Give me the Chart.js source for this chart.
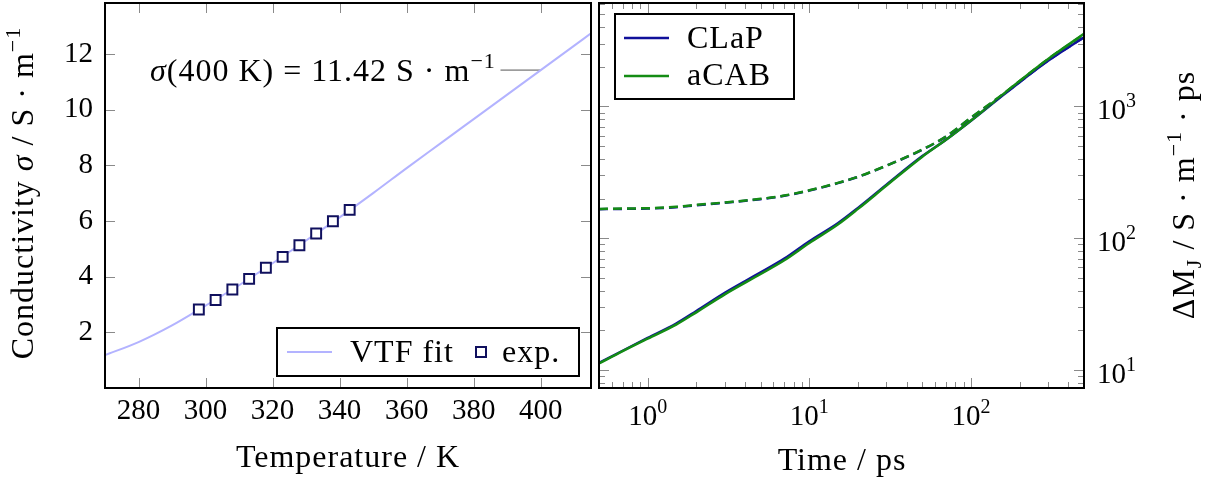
<!DOCTYPE html>
<html>
<head>
<meta charset="utf-8">
<script src="https://cdn.jsdelivr.net/npm/chart.js@4.4.0/dist/chart.umd.min.js"></script>
<style>
    body { margin: 0; background: #fff; }
    #wrap { position: relative; width: 1210px; height: 483px; }
    #graficoVTF { position: absolute; left: 0; top: 0; }
    #graficoMJ { position: absolute; left: 596px; top: 0; }
</style>
</head>
<body>
<div id="wrap">
    <canvas id="graficoVTF" width="596" height="483"></canvas>
    <canvas id="graficoMJ" width="614" height="483"></canvas>
</div>
<script>
// Painel esquerdo: condutividade x temperatura
const vtfTemp = [270, 280, 290, 300, 310, 320, 330, 340, 350, 360, 370, 380, 390, 400, 410, 415];
const vtfSigma = [1.18, 1.65, 2.25, 2.96, 3.69, 4.48, 5.3, 6.13, 7.0, 7.9, 8.78, 9.66, 10.54, 11.42, 12.3, 12.74];
const expTemp = [298, 303, 308, 313, 318, 323, 328, 333, 338, 343];
const expSigma = [2.82, 3.16, 3.54, 3.92, 4.32, 4.71, 5.13, 5.55, 5.99, 6.40];
const marcaTemp = [388, 400];
const marcaSigma = [11.42, 11.42];
const tempTicks = [280, 300, 320, 340, 360, 380, 400];
const sigmaTicks = [2, 4, 6, 8, 10, 12];

// Painel direito: deslocamento de M_J x tempo
const tempoPs = [0.5, 0.7, 1, 1.5, 2, 3, 5, 7, 10, 15, 20, 30, 50, 70, 100, 150, 200, 300, 500];
const clapSolido = [11.3, 14.0, 17.5, 22.5, 28, 38.5, 55, 70, 95, 130, 170, 255, 420, 560, 780, 1160, 1530, 2220, 3350];
const acabSolido = [11.2, 13.9, 17.3, 22.1, 27.4, 37.5, 53.5, 68, 92, 127, 167, 251, 416, 558, 782, 1175, 1560, 2290, 3560];
const clapFit = [166, 167, 168, 172, 178, 186, 198, 210, 230, 262, 292, 355, 470, 590, 820, 1175, 1535, 2230, 3360];
const acabFit = [167, 168, 169, 173, 179, 187, 199, 211, 231, 263, 293, 356, 472, 592, 823, 1185, 1560, 2290, 3540];
const decadasX = [1, 10, 100];
const decadasY = [10, 100, 1000];

const FONTE = "'Liberation Serif', 'DejaVu Serif', serif";
const TAM = 32;       // títulos, legenda, anotação
const TAM_TICK = 29;  // rótulos dos ticks
const AZUL_CLARO = '#b3b3ff';
const AZUL_ESCURO = '#10105e';
const COR_CLAP = '#10109a';
const COR_ACAB = '#148c14';

Chart.defaults.font.family = FONTE;
Chart.defaults.font.size = TAM_TICK;
Chart.defaults.color = '#000';

// Desenha texto com partes em itálico / sobrescrito / subscrito
function textoRico(ctx, partes, x, y, alinhar, rot, tam) {
    tam = tam || TAM;
    ctx.save();
    ctx.translate(x, y);
    if (rot) ctx.rotate(rot);
    if (tam >= TAM) ctx.letterSpacing = '1px';
    const fonte = p => (p.i ? 'italic ' : '') + ((p.sup || p.sub) ? Math.round(tam * 0.7) : tam) + 'px ' + FONTE;
    let w = 0;
    partes.forEach(p => { ctx.font = fonte(p); w += ctx.measureText(p.t).width; });
    let cx = alinhar === 'center' ? -w / 2 : 0;
    ctx.textAlign = 'left';
    ctx.textBaseline = 'alphabetic';
    ctx.fillStyle = '#000';
    partes.forEach(p => {
        ctx.font = fonte(p);
        const dy = p.sup ? -tam * 0.42 : (p.sub ? tam * 0.22 : 0);
        ctx.fillText(p.t, cx, dy);
        cx += ctx.measureText(p.t).width;
    });
    ctx.restore();
}

// Moldura + ticks para dentro nos quatro lados
const molduraPlugin = {
    id: 'moldura',
    beforeDatasetsDraw(chart, args, opts) {
        const { ctx, chartArea: a } = chart;
        const sx = chart.scales.x, sy = chart.scales.y;
        ctx.save();
        ctx.strokeStyle = '#8a8a8a';
        ctx.lineWidth = 1;
        const tick = (lista, len, eixo) => {
            lista.forEach(v => {
                if (eixo === 'x') {
                    const p = Math.round(sx.getPixelForValue(v)) + 0.5;
                    if (p < a.left || p > a.right) return;
                    ctx.beginPath();
                    ctx.moveTo(p, a.bottom); ctx.lineTo(p, a.bottom - len);
                    ctx.moveTo(p, a.top); ctx.lineTo(p, a.top + len);
                    ctx.stroke();
                } else {
                    const p = Math.round(sy.getPixelForValue(v)) + 0.5;
                    if (p < a.top || p > a.bottom) return;
                    ctx.beginPath();
                    ctx.moveTo(a.left, p); ctx.lineTo(a.left + len, p);
                    ctx.moveTo(a.right, p); ctx.lineTo(a.right - len, p);
                    ctx.stroke();
                }
            });
        };
        tick(opts.xMaior || [], 10, 'x');
        tick(opts.xMenor || [], 6, 'x');
        tick(opts.yMaior || [], 10, 'y');
        tick(opts.yMenor || [], 6, 'y');
        ctx.restore();
    },
    afterDatasetsDraw(chart) {
        const { ctx, chartArea: a } = chart;
        ctx.save();
        ctx.strokeStyle = '#000';
        ctx.lineWidth = 2;
        ctx.strokeRect(a.left, a.top, a.right - a.left, a.bottom - a.top);
        ctx.restore();
    }
};

function menores(min, max) {
    const out = [];
    for (let d = 0.1; d <= 10000; d *= 10) {
        for (let k = 2; k <= 9; k++) {
            const v = +(k * d).toPrecision(3);
            if (v >= min && v <= max) out.push(v);
        }
    }
    return out;
}

// tamanho fixo dos eixos, sem folgas automáticas
const fixarX = s => { s.height = 95; s.paddingLeft = 0; s.paddingRight = 0; };
const fixarY = w => s => { s.width = w; s.paddingTop = 0; s.paddingBottom = 0; };

// ---------- gráfico esquerdo ----------
new Chart(document.getElementById('graficoVTF'), {
    type: 'line',
    data: {
        datasets: [
            {
                label: 'exp.',
                data: expTemp.map((t, i) => ({ x: t, y: expSigma[i] })),
                showLine: false,
                pointStyle: 'rect',
                pointRadius: 7,
                pointBorderWidth: 2,
                pointBorderColor: AZUL_ESCURO,
                pointBackgroundColor: '#fff'
            },
            {
                label: 'VTF fit',
                data: vtfTemp.map((t, i) => ({ x: t, y: vtfSigma[i] })),
                borderColor: AZUL_CLARO,
                borderWidth: 2,
                pointRadius: 0,
                cubicInterpolationMode: 'monotone'
            },
            {
                label: 'marca',
                data: marcaTemp.map((t, i) => ({ x: t, y: marcaSigma[i] })),
                borderColor: '#555',
                borderWidth: 1,
                pointRadius: 0
            }
        ]
    },
    options: {
        responsive: false,
        animation: false,
        layout: { autoPadding: false, padding: { left: 0, right: 5, top: 3, bottom: 0 } },
        plugins: {
            legend: { display: false },
            tooltip: { enabled: false },
            moldura: { xMaior: tempTicks, yMaior: sigmaTicks }
        },
        scales: {
            x: {
                type: 'linear', min: 270, max: 415,
                grid: { display: false, drawTicks: false },
                border: { display: false },
                afterBuildTicks: s => { s.ticks = tempTicks.map(v => ({ value: v })); },
                afterFit: fixarX,
                ticks: { padding: 6, maxRotation: 0, callback: v => String(v) }
            },
            y: {
                type: 'linear', min: 0, max: 13.83,
                grid: { display: false, drawTicks: false },
                border: { display: false },
                afterBuildTicks: s => { s.ticks = sigmaTicks.map(v => ({ value: v })); },
                afterFit: fixarY(105),
                ticks: { padding: 12, callback: v => String(v) }
            }
        }
    },
    plugins: [molduraPlugin, {
        id: 'textosVTF',
        afterDraw(chart) {
            const ctx = chart.ctx;
            textoRico(ctx, [{ t: 'σ', i: 1 }, { t: '(400 K) = 11.42 S · m' }, { t: '−1', sup: 1 }], 150, 81, 'left');
            textoRico(ctx, [{ t: 'Temperature / K' }], 348, 467, 'center');
            textoRico(ctx, [{ t: 'Conductivity ' }, { t: 'σ', i: 1 }, { t: ' / S · m' }, { t: '−1', sup: 1 }], 33, 193, 'center', -Math.PI / 2);
            // legenda
            const ds = chart.data.datasets;
            ctx.save();
            ctx.fillStyle = '#fff';
            ctx.fillRect(277, 328, 302, 48);
            ctx.strokeStyle = '#000';
            ctx.lineWidth = 2;
            ctx.strokeRect(277, 328, 302, 48);
            ctx.strokeStyle = ds[1].borderColor;
            ctx.lineWidth = 2;
            ctx.beginPath(); ctx.moveTo(287, 352); ctx.lineTo(332, 352); ctx.stroke();
            ctx.strokeStyle = ds[0].pointBorderColor;
            ctx.strokeRect(476, 347, 10, 10);
            ctx.restore();
            textoRico(ctx, [{ t: ds[1].label }], 350, 362, 'left');
            textoRico(ctx, [{ t: ds[0].label }], 502, 362, 'left');
        }
    }]
});

// ---------- gráfico direito ----------
const serie = (ys) => tempoPs.map((t, i) => ({ x: t, y: ys[i] }));
const expoente = v => String(Math.round(Math.log10(v)));
new Chart(document.getElementById('graficoMJ'), {
    type: 'line',
    data: {
        datasets: [
            { label: 'aCAB fit', data: serie(acabFit), borderColor: COR_ACAB, borderWidth: 2.5, borderDash: [9, 5], pointRadius: 0, cubicInterpolationMode: 'monotone' },
            { label: 'CLaP fit', data: serie(clapFit), borderColor: COR_CLAP, borderWidth: 2.5, borderDash: [9, 5], pointRadius: 0, cubicInterpolationMode: 'monotone' },
            { label: 'aCAB', data: serie(acabSolido), borderColor: COR_ACAB, borderWidth: 2.5, pointRadius: 0, cubicInterpolationMode: 'monotone' },
            { label: 'CLaP', data: serie(clapSolido), borderColor: COR_CLAP, borderWidth: 2.5, pointRadius: 0, cubicInterpolationMode: 'monotone' }
        ]
    },
    options: {
        responsive: false,
        animation: false,
        layout: { autoPadding: false, padding: { left: 3, right: 0, top: 3, bottom: 0 } },
        plugins: {
            legend: { display: false },
            tooltip: { enabled: false },
            moldura: {
                xMaior: decadasX, xMenor: menores(0.5, 500),
                yMaior: decadasY, yMenor: menores(7.3, 6100)
            }
        },
        scales: {
            x: {
                type: 'logarithmic', min: 0.5, max: 500,
                grid: { display: false, drawTicks: false },
                border: { display: false },
                afterBuildTicks: s => { s.ticks = decadasX.map(v => ({ value: v })); },
                afterFit: fixarX,
                ticks: { display: false }
            },
            y: {
                type: 'logarithmic', position: 'right', min: 7.3, max: 6100,
                grid: { display: false, drawTicks: false },
                border: { display: false },
                afterBuildTicks: s => { s.ticks = decadasY.map(v => ({ value: v })); },
                afterFit: fixarY(126),
                ticks: { display: false }
            }
        }
    },
    plugins: [molduraPlugin, {
        id: 'textosMJ',
        afterDraw(chart) {
            const ctx = chart.ctx;
            const sx = chart.scales.x, sy = chart.scales.y, a = chart.chartArea;
            // rótulos 10^n dos eixos logarítmicos
            decadasX.forEach(v => {
                textoRico(ctx, [{ t: '10' }, { t: expoente(v), sup: 1 }], sx.getPixelForValue(v), 425, 'center', 0, TAM_TICK);
            });
            decadasY.forEach(v => {
                textoRico(ctx, [{ t: '10' }, { t: expoente(v), sup: 1 }], a.right + 13, sy.getPixelForValue(v) + 13, 'left', 0, TAM_TICK);
            });
            textoRico(ctx, [{ t: 'Time / ps' }], 246, 470, 'center');
            textoRico(ctx, [{ t: 'ΔM' }, { t: 'J', sub: 1 }, { t: ' / S · m' }, { t: '−1', sup: 1 }, { t: ' · ps' }], 598, 195, 'center', -Math.PI / 2);
            const ds = chart.data.datasets;
            ctx.save();
            ctx.fillStyle = '#fff';
            ctx.fillRect(19, 14, 179, 85);
            ctx.strokeStyle = '#000';
            ctx.lineWidth = 2;
            ctx.strokeRect(19, 14, 179, 85);
            ctx.lineWidth = 2.5;
            ctx.strokeStyle = ds[3].borderColor;
            ctx.beginPath(); ctx.moveTo(28, 38); ctx.lineTo(73, 38); ctx.stroke();
            ctx.strokeStyle = ds[2].borderColor;
            ctx.beginPath(); ctx.moveTo(28, 76); ctx.lineTo(73, 76); ctx.stroke();
            ctx.restore();
            textoRico(ctx, [{ t: ds[3].label }], 91, 48, 'left');
            textoRico(ctx, [{ t: ds[2].label }], 91, 85, 'left');
        }
    }]
});
</script>
</body>
</html>
